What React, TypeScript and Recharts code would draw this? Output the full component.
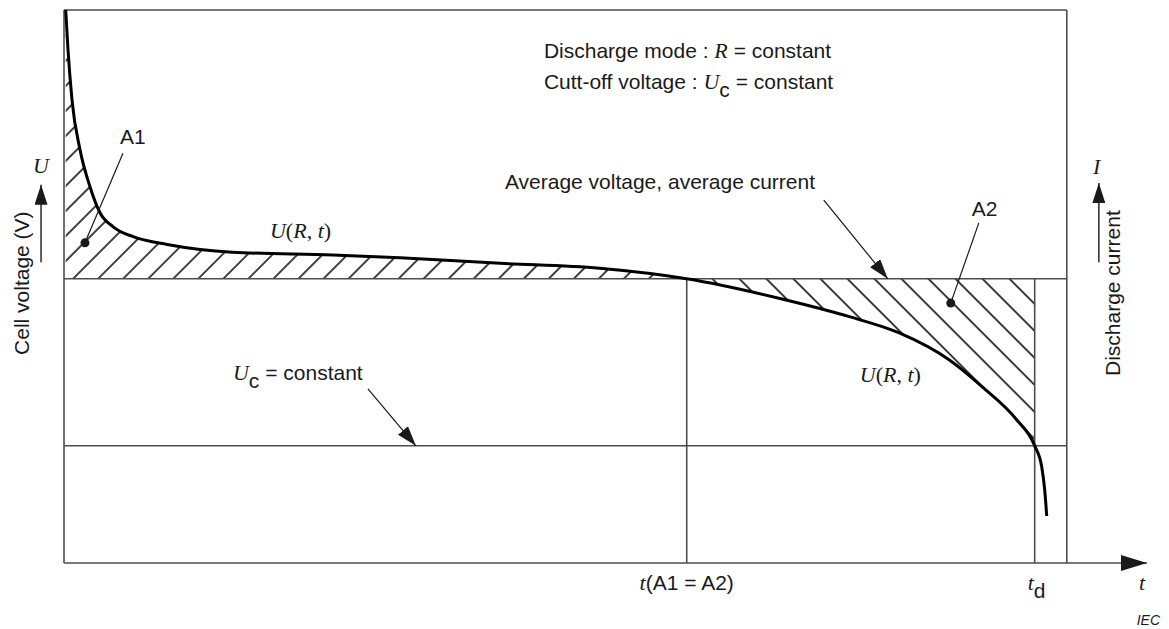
import type { ReactNode } from "react"
import {
  ComposedChart,
  Line,
  Area,
  XAxis,
  YAxis,
  ReferenceLine,
  ReferenceDot,
} from "recharts"

// discharge curve U(R, t) (time and voltage in relative units)
const TIME = [0.17, 0.4, 0.8, 1.6, 2.6, 3.6, 4.9, 6.9, 10.3, 16.8, 26.8, 33.5, 43.5, 53.4, 62.1, 71.7, 78.4, 83.3, 88.3, 91.6, 95.0, 96.8, 97.5, 97.8, 98.0]
const VOLTAGE = [100, 92.8, 83.7, 74.7, 68.0, 63.3, 60.8, 59.0, 57.6, 56.2, 55.7, 55.2, 54.2, 53.3, 51.4, 47.7, 44.5, 41.6, 36.7, 31.8, 25.9, 21.2, 17.4, 13.2, 8.5]

const AVG = 51.4 // average voltage
const UC = 21.2 // cut-off voltage
const T_EQ = 62.1 // t(A1 = A2)
const T_D = 96.8 // t_d
const T_BOX = 100
const T_END = 108
const V_TOP = 100

const DATA = TIME.map((t, i) => ({
  t,
  u: VOLTAGE[i],
  a1: t <= T_EQ ? [AVG, VOLTAGE[i]] : null,
  a2: t >= T_EQ && t <= T_D ? [VOLTAGE[i], AVG] : null,
}))

const SANS = "'Liberation Sans', Arial, sans-serif"
const SERIF = "'Liberation Serif', 'Times New Roman', serif"
const INK = "#1a1a1a"
const FRAME = "#4d4d4d"

function seg(key: string, x1: number, y1: number, x2: number, y2: number, stroke: string, width: number, marker?: string) {
  return (
    <ReferenceLine
      key={key}
      segment={[{ x: x1, y: y1 }, { x: x2, y: y2 }]}
      ifOverflow="visible"
      shape={(p: any) => (
        <line
          x1={p.x1}
          y1={p.y1}
          x2={p.x2}
          y2={p.y2}
          stroke={stroke}
          strokeWidth={width}
          markerEnd={marker ? `url(#${marker})` : undefined}
        />
      )}
    />
  )
}

function note(key: string, x: number, y: number, render: (cx: number, cy: number) => ReactNode) {
  return (
    <ReferenceDot
      key={key}
      x={x}
      y={y}
      r={0}
      ifOverflow="visible"
      isFront
      shape={(p: any) => <g>{render(p.cx, p.cy)}</g>}
    />
  )
}

function dot(key: string, x: number, y: number) {
  return <ReferenceDot key={key} x={x} y={y} r={4.5} fill={INK} stroke="none" ifOverflow="visible" isFront />
}

const txt = { fontFamily: SANS, fontSize: 21, fill: INK }
const ital = { fontFamily: SERIF, fontStyle: "italic" as const, fontSize: 22 }

export default function App() {
  return (
    <div style={{ position: "absolute", left: 0, top: 0, background: "#fff" }}>
      <ComposedChart
        width={1169}
        height={629}
        data={DATA}
        margin={{ top: 10, right: 22, bottom: 66, left: 64 }}
      >
        <defs>
          <pattern id="hatchA1" patternUnits="userSpaceOnUse" width="17.7" height="10" patternTransform="rotate(45)">
            <line x1="1" y1="0" x2="1" y2="10" stroke="#111" strokeWidth="1.6" />
          </pattern>
          <pattern id="hatchA2" patternUnits="userSpaceOnUse" width="19.1" height="10" patternTransform="rotate(-45)">
            <line x1="1" y1="0" x2="1" y2="10" stroke="#111" strokeWidth="1.6" />
          </pattern>
          <marker id="headAxis" viewBox="0 0 26 16" markerUnits="userSpaceOnUse" markerWidth="26" markerHeight="16" refX="26" refY="8" orient="auto">
            <path d="M0,0 L26,8 L0,16 z" fill={INK} />
          </marker>
          <marker id="headLead" viewBox="0 0 20 13" markerUnits="userSpaceOnUse" markerWidth="20" markerHeight="13" refX="20" refY="6.5" orient="auto">
            <path d="M0,0 L20,6.5 L0,13 z" fill={INK} />
          </marker>
        </defs>
        <XAxis type="number" dataKey="t" domain={[0, T_END]} allowDataOverflow hide />
        <YAxis type="number" domain={[0, V_TOP]} allowDataOverflow hide />

        <Area dataKey="a1" type="monotone" stroke="none" fill="url(#hatchA1)" fillOpacity={1} isAnimationActive={false} />
        <Area dataKey="a2" type="monotone" stroke="none" fill="url(#hatchA2)" fillOpacity={1} isAnimationActive={false} />

        {seg("frameL", 0, 0, 0, V_TOP, FRAME, 1.6)}
        {seg("frameT", 0, V_TOP, T_BOX, V_TOP, FRAME, 1.6)}
        {seg("frameR", T_BOX, 0, T_BOX, V_TOP, FRAME, 1.6)}
        {seg("axisT", 0, 0, T_END, 0, FRAME, 1.6, "headAxis")}
        {seg("avg", 0, AVG, T_BOX, AVG, FRAME, 1.6)}
        {seg("uc", 0, UC, T_BOX, UC, FRAME, 1.6)}
        {seg("teq", T_EQ, 0, T_EQ, AVG, FRAME, 1.6)}
        {seg("td", T_D, 0, T_D, AVG, FRAME, 1.6)}

        <Line dataKey="u" type="monotone" stroke="#000" strokeWidth={3} dot={false} activeDot={false} isAnimationActive={false} />

        {seg("leadAvg", 75.77, 65.6, 82.15, AVG, INK, 1.2, "headLead")}
        {seg("leadUc", 30.31, 31.5, 35.09, UC, INK, 1.2, "headLead")}
        {seg("leadA1", 5.88, 74.1, 2.09, 57.9, INK, 1.2)}
        {seg("leadA2", 91.23, 61.5, 88.43, 47.0, INK, 1.2)}
        {seg("arrowU", -2.29, 54.4, -2.29, 68.4, INK, 1.4, "headLead")}
        {seg("arrowI", 103.2, 54.4, 103.2, 68.7, INK, 1.4, "headLead")}
        {dot("dotA1", 2.09, 57.9)}
        {dot("dotA2", 88.43, 47.0)}

        {note("mode", 47.86, 91.3, (x, y) => (
          <text x={x} y={y} {...txt}>
            Discharge mode : <tspan {...ital}>R</tspan> = constant
          </text>
        ))}
        {note("cutoff", 47.86, 85.7, (x, y) => (
          <text x={x} y={y} {...txt}>
            Cutt-off voltage : <tspan {...ital}>U</tspan>
            <tspan dy={8}>c</tspan>
            <tspan dy={-8}> = constant</tspan>
          </text>
        ))}
        {note("avgText", 43.97, 67.6, (x, y) => (
          <text x={x} y={y} {...txt}>Average voltage, average current</text>
        ))}
        {note("a1Text", 5.58, 75.8, (x, y) => (
          <text x={x} y={y} {...txt}>A1</text>
        ))}
        {note("a2Text", 90.53, 62.7, (x, y) => (
          <text x={x} y={y} {...txt}>A2</text>
        ))}
        {note("urt1", 20.54, 58.8, (x, y) => (
          <text x={x} y={y} fontFamily={SERIF} fontSize={22} fill={INK}>
            <tspan fontStyle="italic">U</tspan>(<tspan fontStyle="italic">R</tspan>, <tspan fontStyle="italic">t</tspan>)
          </text>
        ))}
        {note("urt2", 79.36, 32.7, (x, y) => (
          <text x={x} y={y} fontFamily={SERIF} fontSize={22} fill={INK}>
            <tspan fontStyle="italic">U</tspan>(<tspan fontStyle="italic">R</tspan>, <tspan fontStyle="italic">t</tspan>)
          </text>
        ))}
        {note("ucText", 16.85, 33.1, (x, y) => (
          <text x={x} y={y} {...txt}>
            <tspan {...ital}>U</tspan>
            <tspan dy={8}>c</tspan>
            <tspan dy={-8}> = constant</tspan>
          </text>
        ))}
        {note("teqText", T_EQ, -4.9, (x, y) => (
          <text x={x} y={y} {...txt} textAnchor="middle">
            <tspan {...ital}>t</tspan>(A1 = A2)
          </text>
        ))}
        {note("tdText", T_D, -4.9, (x, y) => (
          <text x={x - 7} y={y} {...txt}>
            <tspan {...ital}>t</tspan>
            <tspan dy={8}>d</tspan>
          </text>
        ))}
        {note("tText", 107.5, -4.9, (x, y) => (
          <text x={x} y={y} {...ital} fill={INK} textAnchor="middle">t</text>
        ))}
        {note("iec", 109.3, -11.2, (x, y) => (
          <text x={x} y={y} fontFamily={SANS} fontStyle="italic" fontSize={14} fill={INK} textAnchor="end">IEC</text>
        ))}
        {note("uLabel", -2.29, 70.5, (x, y) => (
          <text x={x} y={y} {...ital} fill={INK} textAnchor="middle">U</text>
        ))}
        {note("iLabel", 102.99, 70.3, (x, y) => (
          <text x={x} y={y} {...ital} fill={INK} textAnchor="middle">I</text>
        ))}
        {note("cellV", -4.19, 50.6, (x, y) => (
          <text x={x} y={y} {...txt} textAnchor="middle" dominantBaseline="central" transform={`rotate(-90 ${x} ${y})`}>
            Cell voltage (V)
          </text>
        ))}
        {note("dischI", 104.6, 48.8, (x, y) => (
          <text x={x} y={y} {...txt} textAnchor="middle" dominantBaseline="central" transform={`rotate(-90 ${x} ${y})`}>
            Discharge current
          </text>
        ))}
      </ComposedChart>
    </div>
  )
}
